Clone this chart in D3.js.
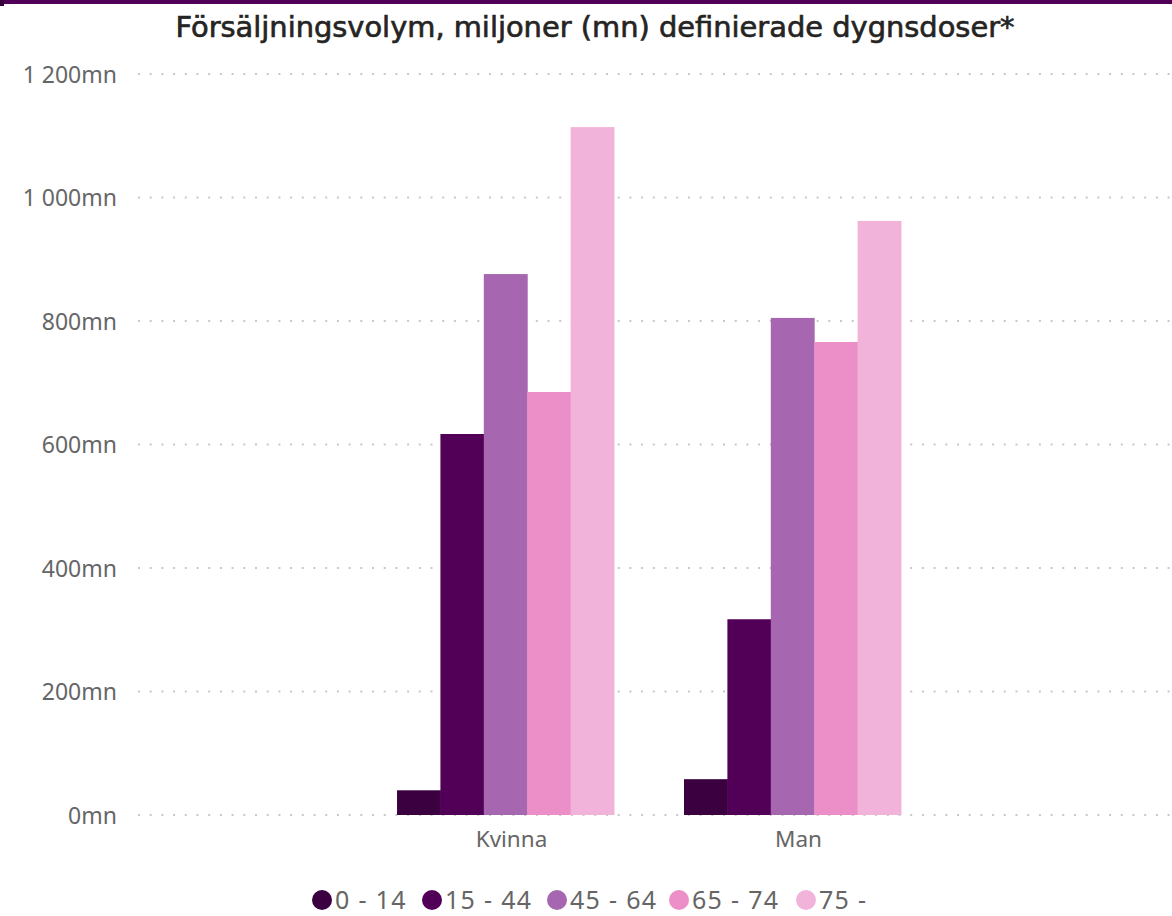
<!DOCTYPE html>
<meta charset="utf-8">
<script src="https://cdn.jsdelivr.net/npm/d3@7"></script>
<style>
body { margin: 0; background: #fff; }
.tick text, .cat, .leg text { font-family: "Segoe UI", "Noto Sans", sans-serif; fill: #666666; }
.title { font-family: "DejaVu Sans Condensed", sans-serif; fill: #252423; stroke: #252423; stroke-width: 0.6px; }
</style>
<body>
<script>

let width = 1172,
    height = 916;

let categories = ['Kvinna', 'Man'];
let groups = ['0 - 14', '15 - 44', '45 - 64', '65 - 74', '75 -'];
let kvinna = [40, 617, 876, 685, 1114];
let man = [58, 317, 805, 766, 962];
let yTicks = [0, 200, 400, 600, 800, 1000, 1200];
let color = ['#3a0040', '#520057', '#a667b0', '#ec8fc8', '#f2b3da'];

let values = { Kvinna: kvinna, Man: man };

let svg = d3.select("body").append("svg")
    .attr("width", width)
    .attr("height", height);

// top stripe
svg.append("rect").attr("x", 0).attr("y", 0).attr("width", width).attr("height", 4).attr("fill", "#520057");
svg.append("rect").attr("x", 0).attr("y", 0).attr("width", 4).attr("height", 6).attr("fill", "#3a0040");

svg.append("text")
    .attr("class", "title")
    .attr("x", 595)
    .attr("y", 37)
    .attr("text-anchor", "middle")
    .attr("font-size", 29)
    .attr("textLength", 839)
    .attr("lengthAdjust", "spacingAndGlyphs")
    .text("Försäljningsvolym, miljoner (mn) definierade dygnsdoser*");

let y = d3.scaleLinear().domain([0, 1200]).range([815, 74]);

let x = d3.scaleBand().domain(categories).range([397 - 70, 901 + 70]).paddingInner(70 / 287).paddingOuter(0.244);
let x1 = d3.scaleBand().domain(groups).range([0, x.bandwidth()]);

// gridlines
svg.append("g").selectAll("line")
    .data(yTicks)
    .enter().append("line")
    .attr("x1", 138).attr("x2", width)
    .attr("y1", d => y(d)).attr("y2", d => y(d))
    .attr("stroke", "#c8c8c8")
    .attr("stroke-width", 2)
    .attr("stroke-dasharray", "2,9.7");

let fmt = d3.formatLocale({ decimal: ",", thousands: "\u00a0", grouping: [3], currency: ["", ""] }).format(",");

let yAxis = svg.append("g")
    .attr("transform", "translate(117,0)")
    .call(d3.axisLeft(y).tickValues(yTicks).tickSize(0).tickPadding(0).tickFormat(d => fmt(d) + "mn"));
yAxis.select(".domain").remove();
yAxis.selectAll("text").attr("font-size", 23).attr("dy", "0.35em");

// bars
let g = svg.append("g").selectAll("g")
    .data(categories)
    .enter().append("g")
    .attr("transform", d => "translate(" + x(d) + ",0)");

g.selectAll("rect")
    .data(c => values[c].map((v, i) => ({ key: groups[i], value: v, i: i })))
    .enter().append("rect")
    .attr("x", d => x1(d.key))
    .attr("width", x1.bandwidth() + 0.5)
    .attr("y", d => y(d.value))
    .attr("height", d => y(0) - y(d.value))
    .attr("fill", d => color[d.i]);

svg.append("g").selectAll("text")
    .data(categories)
    .enter().append("text")
    .attr("class", "cat")
    .attr("x", d => x(d) + x.bandwidth() / 2 + 6)
    .attr("y", 847)
    .attr("text-anchor", "middle")
    .attr("font-size", 22.5)
    .text(d => d);

// legend
let legX = [322, 432, 557, 679, 806];
let leg = svg.append("g").attr("class", "leg").selectAll("g")
    .data(groups)
    .enter().append("g")
    .attr("transform", (d, i) => "translate(" + legX[i] + ",900)");
leg.append("circle").attr("r", 10).attr("fill", (d, i) => color[i]);
leg.append("text")
    .attr("x", 13)
    .attr("dy", "0.35em")
    .attr("font-size", 25)
    .attr("letter-spacing", 1.3)
    .text(d => d);

</script>
